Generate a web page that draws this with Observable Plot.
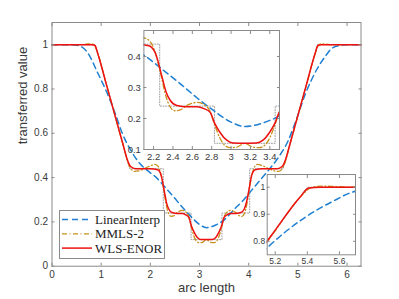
<!DOCTYPE html>
<html><head><meta charset="utf-8">
<script src="https://cdn.jsdelivr.net/npm/d3@7"></script>
<script src="https://cdn.jsdelivr.net/npm/@observablehq/plot@0.6"></script>
<style>
body{margin:0;background:#fff;}
#wrap{position:relative;width:399px;height:299px;overflow:hidden;background:#fff;}
#wrap > svg{position:absolute;}
</style></head><body><div id="wrap"></div>
<script>
// ---- data ----
const seriesNames = ["LinearInterp", "MMLS-2", "WLS-ENOR"];
const seriesColors = ["#1f80d2", "#c8901c", "#ee1111"];
const xTicks = [0, 1, 2, 3, 4, 5, 6];
const yTicks = [0, 0.2, 0.4, 0.6, 0.8, 1];
const inset1XTicks = [2.2, 2.4, 2.6, 2.8, 3, 3.2, 3.4];
const inset1YTicks = [0.1, 0.2, 0.3, 0.4];
const inset2XTicks = [5.2, 5.4, 5.6];
const inset2YTicks = [0.8, 0.9, 1];

const exactX = [0, 0.88, 1.58, 2.263, 2.263, 2.828, 2.828, 3.455, 3.455, 4.02, 4.02, 4.70, 5.40, 6.283];
const exactY = [1, 1, 0.44, 0.44, 0.24, 0.24, 0.12, 0.12, 0.24, 0.24, 0.44, 0.44, 1, 1];

const linX = [0, 0.3, 0.5, 0.6, 0.73, 0.93, 1.13, 1.3, 1.42, 1.61, 1.8, 1.95, 2.106, 2.304, 2.476, 2.647, 2.818, 2.99, 3.143, 3.33, 3.49, 3.71, 3.9, 4.05, 4.2, 4.39, 4.6, 4.8, 4.95, 5.15, 5.387, 5.55, 5.7, 5.88, 6.0, 6.283];
const linY = [1, 1, 0.997, 0.99, 0.962, 0.872, 0.777, 0.68, 0.605, 0.52, 0.46, 0.43, 0.403, 0.355, 0.312, 0.267, 0.226, 0.19, 0.174, 0.186, 0.207, 0.258, 0.3, 0.34, 0.38, 0.43, 0.49, 0.565, 0.65, 0.776, 0.889, 0.945, 0.985, 0.997, 1, 1];

const mmlsX = [0, 0.6, 0.72, 0.8, 0.86, 0.92, 1.1, 1.3, 1.45, 1.55, 1.62, 1.68, 1.76, 1.9, 2.02, 2.1, 2.16, 2.22, 2.27, 2.32, 2.37, 2.42, 2.47, 2.55, 2.65, 2.72, 2.78, 2.83, 2.88, 2.93, 2.99, 3.06, 3.14, 3.223, 3.293, 3.353, 3.403, 3.453, 3.503, 3.563, 3.633, 3.733, 3.813, 3.863, 3.913, 3.963, 4.013, 4.063, 4.123, 4.183, 4.263, 4.383, 4.523, 4.603, 4.663, 4.733, 4.833, 4.983, 5.183, 5.363, 5.423, 5.483, 5.563, 5.683, 6.283];
const mmlsY = [1, 1, 1.003, 1.004, 0.998, 0.968, 0.825, 0.665, 0.545, 0.465, 0.435, 0.428, 0.43, 0.443, 0.455, 0.46, 0.45, 0.41, 0.35, 0.28, 0.238, 0.225, 0.227, 0.243, 0.252, 0.245, 0.225, 0.18, 0.14, 0.115, 0.106, 0.108, 0.12, 0.108, 0.106, 0.115, 0.14, 0.18, 0.225, 0.245, 0.252, 0.243, 0.227, 0.225, 0.238, 0.28, 0.35, 0.41, 0.45, 0.46, 0.455, 0.443, 0.43, 0.428, 0.435, 0.465, 0.545, 0.665, 0.825, 0.968, 0.998, 1.004, 1.003, 1, 1];

const wlsX = [0, 0.8, 0.87, 0.93, 1.1, 1.3, 1.45, 1.53, 1.6, 1.7, 2.0, 2.15, 2.22, 2.288, 2.33, 2.373, 2.44, 2.55, 2.65, 2.72, 2.784, 2.83, 2.886, 2.955, 3.02, 3.14, 3.26, 3.33, 3.397, 3.453, 3.499, 3.56, 3.63, 3.73, 3.84, 3.91, 3.95, 3.995, 4.06, 4.13, 4.28, 4.58, 4.68, 4.75, 4.83, 4.98, 5.18, 5.35, 5.41, 5.48, 6.283];
const wlsY = [1, 1, 0.997, 0.96, 0.825, 0.665, 0.545, 0.482, 0.45, 0.44, 0.44, 0.435, 0.41, 0.333, 0.285, 0.258, 0.242, 0.238, 0.238, 0.232, 0.22, 0.185, 0.155, 0.13, 0.121, 0.12, 0.121, 0.13, 0.155, 0.185, 0.22, 0.232, 0.238, 0.238, 0.242, 0.258, 0.285, 0.333, 0.41, 0.435, 0.44, 0.44, 0.45, 0.482, 0.545, 0.665, 0.825, 0.96, 0.997, 1, 1];

// ---- build tables ----
const pts = (xs, ys) => xs.map((x, i) => ({x, y: ys[i]}));
const exact = pts(exactX, exactY);
const lin = pts(linX, linY);
const mmls = pts(mmlsX, mmlsY);
const wls = pts(wlsX, wlsY);

const AX = "#8a8a8a";
const TXT = "#3a3a3a";
const SANS = "'Liberation Sans', Arial, Helvetica, sans-serif";

function curveMarks(clip) {
  return [
    Plot.line(exact, {x: "x", y: "y", stroke: "#888", strokeWidth: 0.8, strokeDasharray: "1,1.6", clip}),
    Plot.line(lin, {x: "x", y: "y", stroke: seriesColors[0], strokeWidth: 1.5, strokeDasharray: "6,4", curve: "monotone-x", clip}),
    Plot.line(mmls, {x: "x", y: "y", stroke: seriesColors[1], strokeWidth: 1.3, strokeDasharray: "5,2.5,1,2.5", curve: "monotone-x", clip}),
    Plot.line(wls, {x: "x", y: "y", stroke: seriesColors[2], strokeWidth: 1.5, curve: "monotone-x", clip})
  ];
}

function boxAxes(xt, yt, fs, pad, fmtX, fmtY) {
  return [
    Plot.frame({stroke: AX, strokeWidth: 1}),
    Plot.axisX(xt, {anchor: "bottom", tickSize: 0, tickPadding: pad, label: null, fontSize: fs, tickFormat: fmtX, fill: TXT}),
    Plot.axisY(yt, {anchor: "left", tickSize: 0, tickPadding: pad - 1, label: null, fontSize: fs, tickFormat: fmtY, fill: TXT}),
    Plot.axisX(xt, {anchor: "bottom", tickSize: -3, text: null, label: null, stroke: AX}),
    Plot.axisX(xt, {anchor: "top", tickSize: -3, text: null, label: null, stroke: AX}),
    Plot.axisY(yt, {anchor: "left", tickSize: -3, text: null, label: null, stroke: AX}),
    Plot.axisY(yt, {anchor: "right", tickSize: -3, text: null, label: null, stroke: AX})
  ];
}

const fmt = d => String(d);
const wrap = document.getElementById("wrap");

// ---- main chart ----
const main = Plot.plot({
  width: 399, height: 299,
  marginLeft: 51.5, marginRight: 38.5, marginTop: 22, marginBottom: 33.3,
  x: {domain: [0, 2 * Math.PI]},
  y: {domain: [0, 1.1]},
  style: {background: "transparent", fontFamily: SANS, color: TXT},
  marks: [
    Plot.frame({fill: "white", stroke: "none"}),
    ...curveMarks(false),
    ...boxAxes(xTicks, yTicks, 10, 5, fmt, fmt),
    Plot.text(["arc length"], {frameAnchor: "bottom", dy: 26, fontSize: 13, fill: TXT, fontFamily: SANS}),
    Plot.text(["transferred value"], {frameAnchor: "left", dx: -29, rotate: -90, fontSize: 13, fill: TXT, fontFamily: SANS})
  ]
});
main.style.left = "0px"; main.style.top = "0px";
wrap.appendChild(main);

// ---- inset 1 ----
const in1 = Plot.plot({
  width: 159, height: 134,
  marginLeft: 22.4, marginRight: 1, marginTop: 1, marginBottom: 14,
  x: {domain: [2.1, 3.5]},
  y: {domain: [0.1, 0.484]},
  style: {background: "transparent", fontFamily: SANS, color: TXT},
  marks: [
    Plot.frame({fill: "white", stroke: "none"}),
    ...curveMarks(true),
    ...boxAxes(inset1XTicks, inset1YTicks, 9.5, 4, fmt, fmt)
  ]
});
in1.style.left = "121px"; in1.style.top = "29px";
wrap.appendChild(in1);

// ---- inset 2 ----
const in2 = Plot.plot({
  width: 111, height: 95,
  marginLeft: 21.7, marginRight: 1, marginTop: 1, marginBottom: 13.7,
  x: {domain: [5.15, 5.7]},
  y: {domain: [0.75, 1.047]},
  style: {background: "transparent", fontFamily: SANS, color: TXT},
  marks: [
    Plot.frame({fill: "white", stroke: "none"}),
    ...curveMarks(true),
    ...boxAxes(inset2XTicks, inset2YTicks, 8.5, 3, fmt, fmt)
  ]
});
in2.style.left = "245px"; in2.style.top = "173px";
wrap.appendChild(in2);

// ---- legend ----
const leg = d3.create("svg").attr("width", 399).attr("height", 299).style("left", "0px").style("top", "0px").style("position", "absolute");
leg.append("rect").attr("x", 59.5).attr("y", 210.5).attr("width", 105).attr("height", 48)
  .attr("fill", "white").attr("stroke", AX).attr("stroke-width", 1);
const dashes = ["6,4", "5,2.5,1,2.5", null];
const widths = [1.5, 1.3, 1.5];
seriesNames.forEach((name, i) => {
  const cy = 219.5 + i * 14.3;
  const l = leg.append("line").attr("x1", 62).attr("x2", 92).attr("y1", cy).attr("y2", cy)
    .attr("stroke", seriesColors[i]).attr("stroke-width", widths[i]);
  if (dashes[i]) l.attr("stroke-dasharray", dashes[i]);
  leg.append("text").attr("x", 95).attr("y", cy).attr("dy", "0.35em")
    .attr("font-family", "'Liberation Serif', 'DejaVu Serif', serif").attr("font-size", 13)
    .attr("fill", "#222").text(name);
});
wrap.appendChild(leg.node());
</script>
</body></html>
